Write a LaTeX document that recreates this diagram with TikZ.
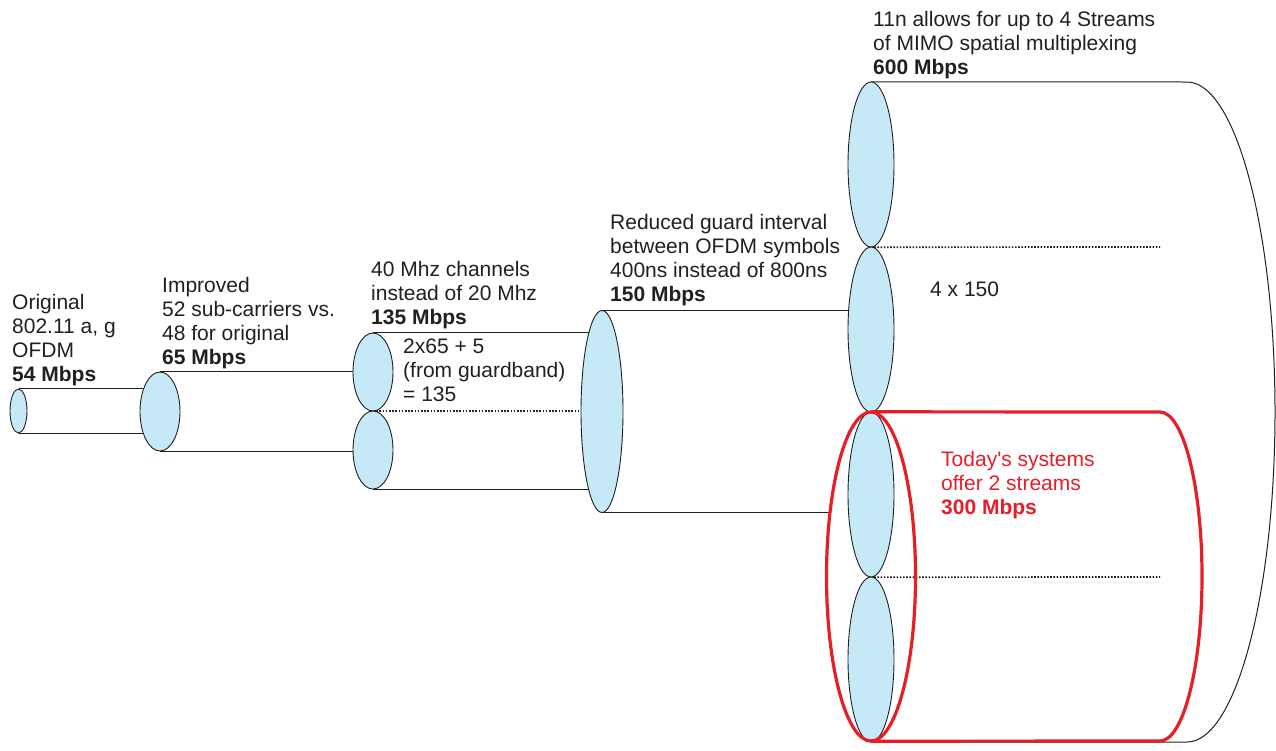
\documentclass[tikz,border=0pt]{standalone}
\usepackage{fontspec}
\setmainfont{Liberation Sans}
\newfontfamily\plainfont{Liberation Sans}
\usetikzlibrary{shapes.geometric}
\definecolor{lblue}{RGB}{198,233,248}
\definecolor{tgray}{RGB}{35,31,32}
\definecolor{hred}{RGB}{230,30,40}
\newcommand{\blk}[1]{\begin{tabular}[t]{@{}l@{}}#1\end{tabular}}
\begin{document}
\begin{tikzpicture}[x=1pt,y=-1pt,
  lens/.style={ellipse, draw=tgray, line width=0.9pt, fill=lblue, inner sep=0pt},
  edge/.style={draw=tgray, line width=1pt},
  dots/.style={draw=tgray, line width=1.7pt, dash pattern=on 1.6pt off 1.6pt},
  lbl/.style={anchor=base west, inner sep=0pt, text=tgray, font=\fontsize{21}{24}\selectfont},
  redline/.style={draw=hred, line width=3.2pt}]
\useasboundingbox (0,0) rectangle (1276,750);

% ellipse positions (coordinates first, nodes drawn later on top)
\coordinate (c1) at (18.5,411);
\coordinate (c2) at (160,411.5);
\coordinate (c3a) at (373,372);
\coordinate (c3b) at (373,450);
\coordinate (c4) at (602,411.5);
\coordinate (cm1) at (871,164.5);
\coordinate (cm2) at (871,329.5);
\coordinate (cm3) at (871,494.5);
\coordinate (cm4) at (871,659.5);
\coordinate (cr) at (871,576.5);

% invisible ellipse shapes to get anchors
\node[ellipse, inner sep=0pt, minimum width=17pt, minimum height=44pt] (e1) at (c1) {};
\node[ellipse, inner sep=0pt, minimum width=40pt, minimum height=79pt] (e2) at (c2) {};
\node[ellipse, inner sep=0pt, minimum width=40pt, minimum height=78pt] (e3a) at (c3a) {};
\node[ellipse, inner sep=0pt, minimum width=40pt, minimum height=78pt] (e3b) at (c3b) {};
\node[ellipse, inner sep=0pt, minimum width=42pt, minimum height=202pt] (e4) at (c4) {};
\node[ellipse, inner sep=0pt, minimum width=46pt, minimum height=165pt] (m1) at (cm1) {};
\node[ellipse, inner sep=0pt, minimum width=46pt, minimum height=165pt] (m2) at (cm2) {};
\node[ellipse, inner sep=0pt, minimum width=46pt, minimum height=165pt] (m3) at (cm3) {};
\node[ellipse, inner sep=0pt, minimum width=46pt, minimum height=165pt] (m4) at (cm4) {};
\node[ellipse, inner sep=0pt, minimum width=89pt, minimum height=329pt] (red) at (cr) {};

% big 4-stream cylinder body
\coordinate (bt) at (1187,82);
\coordinate (bb) at (1187,742);
\draw[edge] (m1.north) -- (bt) arc[start angle=-90, end angle=90, x radius=88, y radius=330] -- (m4.south);

% connecting tubes
\draw[edge] (e1.north) -- (e1.north -| e2.center);
\draw[edge] (e1.south) -- (e1.south -| e2.center);
\draw[edge] (e2.north) -- (e2.north -| e3a.center);
\draw[edge] (e2.south) -- (e2.south -| e3b.center);
\draw[edge] (e3a.north) -- (e3a.north -| e4.center);
\draw[edge] (e3b.south) -- (e3b.south -| e4.center);
\draw[dots] (e3a.south) -- (e3a.south -| e4.center);
\draw[edge] (e4.north) -- (e4.north -| m2.center);
\draw[edge] (e4.south) -- (e4.south -| red.123);
\coordinate (d1) at (1160,247);
\coordinate (d2) at (1160,577);
\draw[dots] (m1.south) -- (d1);
\draw[dots] (m3.south) -- (d2);

% visible ellipses
\node[lens, minimum width=17pt, minimum height=44pt] at (c1) {};
\node[lens, minimum width=40pt, minimum height=79pt] at (c2) {};
\node[lens, minimum width=40pt, minimum height=78pt] at (c3a) {};
\node[lens, minimum width=40pt, minimum height=78pt] at (c3b) {};
\node[lens, minimum width=42pt, minimum height=202pt] at (c4) {};
\node[lens, minimum width=46pt, minimum height=165pt] at (cm1) {};
\node[lens, minimum width=46pt, minimum height=165pt] at (cm2) {};
\node[lens, minimum width=46pt, minimum height=165pt] at (cm3) {};
\node[lens, minimum width=46pt, minimum height=165pt] at (cm4) {};

% red 2-stream cylinder
\coordinate (rt) at (1160,412);
\draw[redline, line join=round] (red.north) -- (rt) arc[start angle=-90, end angle=90, x radius=42, y radius=164.5] -- (red.south);
\node[ellipse, inner sep=0pt, minimum width=89pt, minimum height=329pt, redline] at (cr) {};

% labels
\node[lbl] (t1) at (12,309) {\blk{Original\\802.11 a, g\\OFDM\\\textbf{54 Mbps}}};
\node[lbl] (t2) at (162,292) {\blk{Improved\\52 sub-carriers vs.\\48 for original\\\textbf{65 Mbps}}};
\node[lbl] (t3) at (371,276) {\blk{40 Mhz channels\\instead of 20 Mhz\\\textbf{135 Mbps}}};
\node[lbl] (t4) at (403,353) {\blk{2x65 + 5\\(from guardband)\\= 135}};
\node[lbl] (t5) at (610,229) {\blk{Reduced guard interval\\between OFDM symbols\\400ns instead of 800ns\\\textbf{150 Mbps}}};
\node[lbl] (t6) at (873,26) {\blk{11n allows for up to 4 Streams\\of MIMO spatial multiplexing\\\textbf{600 Mbps}}};
\node[lbl] (t7) at (930,296) {4 x 150};
\node[lbl, text=hred] (t8) at (941,466) {\blk{Today{\plainfont'}s systems\\offer 2 streams\\\textbf{300 Mbps}}};
\end{tikzpicture}
\end{document}
